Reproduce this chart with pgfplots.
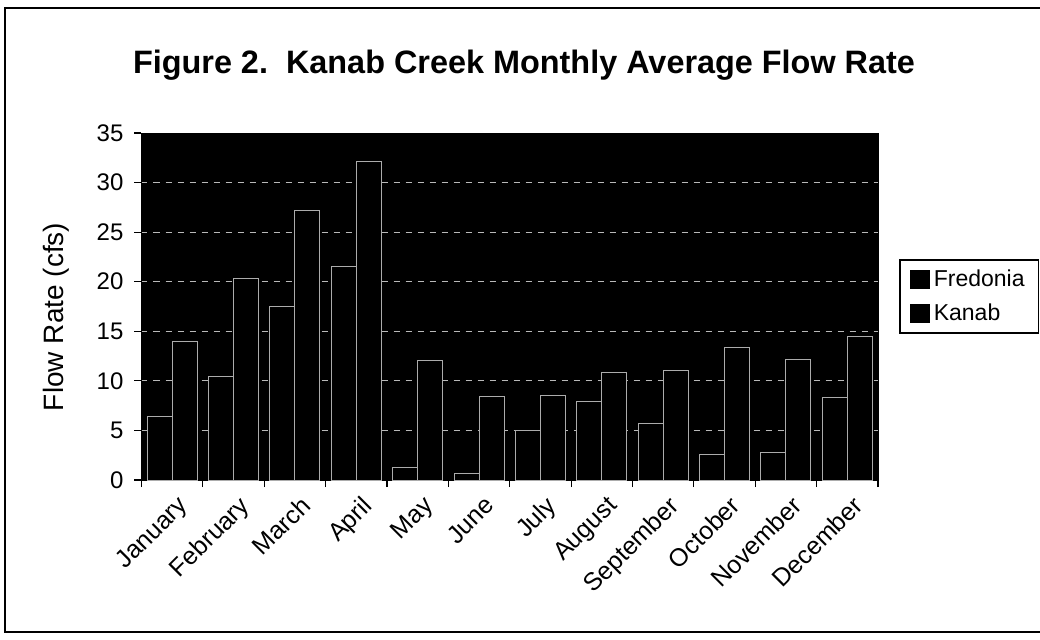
\documentclass[border=0pt]{standalone}
\usepackage{pgfplots}
\pgfplotsset{compat=1.18}
\usepackage{fontspec}
\setmainfont{Liberation Sans}
\begin{document}
\begin{tikzpicture}[x=0.5pt,y=0.5pt]
\useasboundingbox (0,0) rectangle (1040,639);
\draw[line width=1pt] (5,7) rectangle (1070,631);
\node[font=\bfseries\fontsize{16.2}{19}\selectfont] at (524,574) {Figure 2.\ \ Kanab Creek Monthly Average Flow Rate};
\begin{axis}[
  at={(70.75pt,79.5pt)}, anchor=south west,
  width=368.25pt, height=173.5pt, scale only axis,
  ybar=0pt, bar width=12.5pt,
  xmin=0.5, xmax=12.5, ymin=0, ymax=35,
  ytick={0,5,...,35},
  xtick={1,...,12},
  xticklabels={January,February,March,April,May,June,July,August,September,October,November,December},
  minor xtick={0.5,1.5,...,12.5},
  major x tick style={draw=none},
  tick align=outside, major tick length=3.5pt, minor tick length=3.5pt,
  xtick pos=bottom, ytick pos=left,
  tick style={black, line width=0.6pt},
  axis background/.style={fill=black},
  axis line style={black},
  ymajorgrids, grid style={gray!55, dashed, line width=0.4pt},
  /pgf/number format/assume math mode=true,
  yticklabel style={font=\fontsize{12}{14}\selectfont, xshift=-2pt},
  xticklabel style={font=\fontsize{12.5}{15}\selectfont, rotate=45, anchor=north east, yshift=-3pt, inner sep=1pt},
  ylabel={Flow Rate (cfs)},
  ylabel style={font=\fontsize{14}{16}\selectfont, at={(axis description cs:-0.116,0.47)}, anchor=center},
  legend style={at={(axis description cs:1.0285,0.637)}, anchor=north west, draw=black, line width=0.8pt,
    font=\fontsize{11.5}{14}\selectfont, inner xsep=5pt, inner ysep=3pt, row sep=3pt, cells={anchor=west}},
  legend image code/.code={\fill[black] (0pt,-4.6pt) rectangle (9.5pt,4.6pt);},
]
\addplot[fill=black, draw=gray!65, line width=0.5pt] coordinates {
(1,6.4) (2,10.4) (3,17.5) (4,21.5) (5,1.3) (6,0.7) (7,5.0) (8,7.9) (9,5.7) (10,2.6) (11,2.8) (12,8.3)};
\addplot[fill=black, draw=gray!65, line width=0.5pt] coordinates {
(1,14.0) (2,20.3) (3,27.2) (4,32.1) (5,12.1) (6,8.4) (7,8.5) (8,10.8) (9,11.0) (10,13.4) (11,12.2) (12,14.5)};
\legend{Fredonia,Kanab}
\end{axis}
\end{tikzpicture}
\end{document}
